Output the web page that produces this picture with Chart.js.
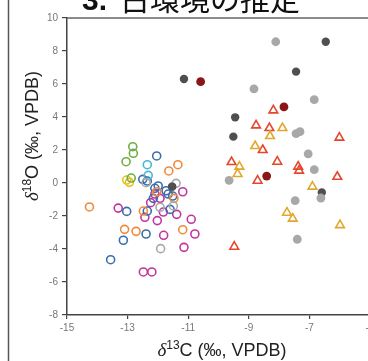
<!DOCTYPE html>
<html>
<head>
<meta charset="utf-8">
<script src="https://cdn.jsdelivr.net/npm/chart.js@4"></script>
<style>
  html, body { margin: 0; padding: 0; background: #fff; overflow: hidden; }
  #wrap { position: absolute; left: 0; top: 0; width: 380px; height: 361px; }
</style>
</head>
<body>
<div id="wrap"><canvas id="c" width="380" height="361"></canvas></div>
<script>
// ---- data (δ13C, δ18O) ----
const xTicks = [-15, -13, -11, -9, -7, -5];
const yTicks = [10, 8, 6, 4, 2, 0, -2, -4, -6, -8];

const darkGrey = [[-6.46,8.56],[-7.44,6.75],[-11.14,6.30],[-9.45,3.98],[-9.51,2.81],[-6.59,-0.57],[-11.53,-0.22]];
const lightGrey = [[-8.11,8.56],[-8.83,5.70],[-6.84,5.05],[-7.44,2.99],[-7.31,3.11],[-7.04,1.76],[-6.84,0.81],[-9.65,0.16],[-6.62,-0.91],[-7.47,-1.07],[-7.40,-3.41]];
const darkRed = [[-10.59,6.14],[-7.84,4.61],[-8.41,0.42]];
const redTri = [[-8.19,4.40],[-8.76,3.49],[-8.32,3.33],[-6.01,2.75],[-8.54,2.00],[-9.57,1.27],[-8.06,1.29],[-7.37,0.99],[-7.34,0.75],[-8.71,0.14],[-6.08,0.38],[-9.48,-3.86]];
const goldTri = [[-7.89,3.33],[-8.30,2.85],[-8.79,2.24],[-9.31,0.99],[-9.37,0.55],[-6.90,-0.22],[-7.74,-1.80],[-7.55,-2.16],[-5.99,-2.55]];
const blueO = [[-12.04,1.64],[-12.50,0.22],[-12.35,0.12],[-11.99,-0.18],[-12.10,-0.32],[-11.73,-0.47],[-11.66,-0.67],[-11.51,-0.79],[-12.15,-0.93],[-13.03,-1.72],[-12.35,-1.70],[-11.60,-1.60],[-12.39,-3.09],[-13.14,-3.47],[-13.56,-4.65]];
const magentaO = [[-11.18,-0.53],[-12.10,-0.67],[-11.93,-0.93],[-12.24,-1.19],[-13.31,-1.52],[-11.82,-1.76],[-11.38,-1.90],[-12.43,-2.08],[-12.02,-2.28],[-10.90,-2.20],[-11.81,-3.17],[-10.78,-3.09],[-11.14,-3.90],[-12.48,-5.39],[-12.20,-5.39]];
const orangeO = [[-11.34,1.11],[-11.64,0.73],[-12.04,-0.53],[-11.47,-0.93],[-14.26,-1.45],[-12.48,-1.70],[-13.10,-2.81],[-12.72,-2.93],[-11.18,-2.83]];
const greenO = [[-12.83,2.20],[-12.81,1.80],[-13.05,1.29],[-12.88,0.30]];
const yellowO = [[-13.03,0.18],[-12.94,0.04]];
const cyanO = [[-12.35,1.11],[-12.32,0.46]];
const greyO = [[-12.39,0.02],[-11.40,-0.02],[-11.93,-1.47],[-11.49,-1.39],[-11.91,-3.98]];

const titlePrefix = "3.";
const titleText = "古環境の推定";

const toPts = a => a.map(p => ({x: p[0], y: p[1]}));

function openCircle(data, color) {
  return { data: toPts(data), pointStyle: 'circle', pointRadius: 4, pointBorderWidth: 1.6,
           pointBorderColor: color, pointBackgroundColor: 'rgba(0,0,0,0)', showLine: false };
}
function filled(data, color, r) {
  return { data: toPts(data), pointStyle: 'circle', pointRadius: r, pointBorderWidth: 0,
           pointBorderColor: color, pointBackgroundColor: color, showLine: false };
}
function tri(data, color) {
  return { data: toPts(data), pointStyle: 'triangle', pointRadius: 5, pointBorderWidth: 1.6,
           pointBorderColor: color, pointBackgroundColor: 'rgba(0,0,0,0)', showLine: false };
}

const datasets = [
  filled(lightGrey, '#a8a8a8', 4.4),
  filled(darkGrey, '#4f4f4f', 4.2),
  filled(darkRed, '#8a1616', 4.4),
  tri(goldTri, '#e2a72c'),
  tri(redTri, '#e4472d'),
  openCircle(greyO, '#a9a9a9'),
  openCircle(greenO, '#6fae41'),
  openCircle(yellowO, '#e6c21d'),
  openCircle(cyanO, '#45b8d4'),
  openCircle(orangeO, '#f08a3b'),
  openCircle(blueO, '#3b6dae'),
  openCircle(magentaO, '#c0369e'),
  filled([darkGrey[6]], '#4f4f4f', 4.2)
];

const decor = {
  id: 'decor',
  afterDraw(chart) {
    const ctx = chart.ctx, a = chart.chartArea;
    ctx.save();
    // outer frame line on left
    ctx.strokeStyle = '#555'; ctx.lineWidth = 1.5;
    ctx.beginPath(); ctx.moveTo(8.5, 0); ctx.lineTo(8.5, chart.height); ctx.stroke();
    // top border of plot
    ctx.strokeStyle = '#666'; ctx.lineWidth = 1.5;
    ctx.beginPath(); ctx.moveTo(a.left, a.top); ctx.lineTo(a.right, a.top); ctx.stroke();
    // title (cropped at top)
    ctx.fillStyle = '#111';
    ctx.textBaseline = 'alphabetic'; ctx.textAlign = 'left';
    ctx.font = 'bold 30px "Liberation Sans", Arial, sans-serif';
    ctx.fillText(titlePrefix, 82, 10);
    ctx.font = '30px "Noto Sans CJK JP", sans-serif';
    ctx.fillText(titleText, 120, 10);

    // axis titles with superscripts
    function drawRich(parts, cx, cy) {
      let total = 0;
      parts.forEach(p => { ctx.font = p.font; total += ctx.measureText(p.t).width; });
      let x = cx - total / 2;
      parts.forEach(p => {
        ctx.font = p.font;
        ctx.fillText(p.t, x, cy + (p.dy || 0));
        x += ctx.measureText(p.t).width;
      });
    }
    ctx.fillStyle = '#222';
    ctx.textBaseline = 'alphabetic';
    const main = '18px "Liberation Sans", Arial, sans-serif';
    const sup = '12px "Liberation Sans", Arial, sans-serif';
    const delta = 'italic 19px "Liberation Serif", "Times New Roman", serif';
    // x title
    drawRich([{t:'δ', font: delta}, {t:'13', font: sup, dy: -7}, {t:'C (‰, VPDB)', font: main}], 222, 356);
    // y title
    ctx.save();
    ctx.translate(38, 136);
    ctx.rotate(-Math.PI / 2);
    drawRich([{t:'δ', font: delta}, {t:'18', font: sup, dy: -7}, {t:'O (‰, VPDB)', font: main}], 0, 0);
    ctx.restore();
    ctx.restore();
  }
};

new Chart(document.getElementById('c'), {
  type: 'scatter',
  data: { datasets },
  options: {
    responsive: false,
    animation: false,
    events: [],
    layout: { padding: { left: 0, top: 18, right: 10, bottom: 0 } },
    plugins: { legend: { display: false }, tooltip: { enabled: false }, title: { display: false } },
    scales: {
      x: {
        type: 'linear', min: -15, max: -5,
        afterBuildTicks: s => { s.ticks = xTicks.map(v => ({value: v})); },
        afterFit: s => { s.height = 46; },
        border: { color: '#444', width: 1.5 },
        grid: { display: true, drawOnChartArea: false, drawTicks: true, tickLength: 4, color: '#444', lineWidth: 1.2 },
        ticks: { color: '#777', padding: 3, maxRotation: 0, autoSkip: false,
                 font: { family: '"Liberation Sans", Arial, sans-serif', size: 10 } }
      },
      y: {
        type: 'linear', min: -8, max: 10,
        afterBuildTicks: s => { s.ticks = yTicks.map(v => ({value: v})); },
        afterFit: s => { s.width = 67; },
        border: { color: '#444', width: 1.5 },
        grid: { display: true, drawOnChartArea: false, drawTicks: true, tickLength: 5, color: '#444', lineWidth: 1.2 },
        ticks: { color: '#777', padding: 4, autoSkip: false,
                 font: { family: '"Liberation Sans", Arial, sans-serif', size: 10 } }
      }
    }
  },
  plugins: [decor]
});
</script>
</body>
</html>
